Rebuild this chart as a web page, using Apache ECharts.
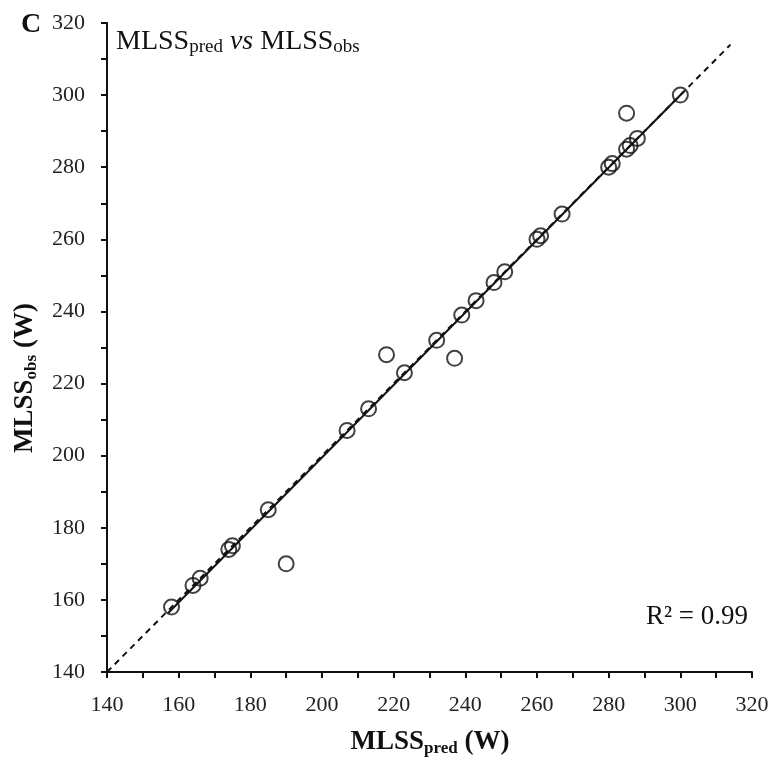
<!DOCTYPE html>
<html>
<head>
<meta charset="utf-8">
<script src="https://cdn.jsdelivr.net/npm/echarts@6/dist/echarts.min.js"></script>
<style>
html,body{margin:0;padding:0;background:#fff;}
#chart{width:774px;height:765px;}
</style>
</head>
<body>
<div id="chart"></div>
<script>
// MLSS predicted (x) vs observed (y), watts
const mlssPred = [158,164,166,174,175,185,190,207,213,218,223,232,237,239,243,248,251,260,261,267,280,281,285,285,286,288,300];
const mlssObs  = [158,164,166,174,175,185,170,207,213,228,223,232,227,239,243,248,251,260,261,267,280,281,295,285,286,288,300];
// identity line (dashed) and regression line (solid) endpoints
const identityX = [140, 314];
const identityY = [140, 314];
const fitX = [157, 301];
const fitY = [156.3, 301];
const axisMin = 140, axisMax = 320, tickStep = 10, labelStep = 20;
const r2Text = 'R² = 0.99';

const font = 'Liberation Serif';
const chart = echarts.init(document.getElementById('chart'));

const pts = mlssPred.map((x, i) => [x, mlssObs[i]]);
const ident = identityX.map((x, i) => [x, identityY[i]]);
const fit = fitX.map((x, i) => [x, fitY[i]]);

function axisCommon() {
  return {
    type: 'value', min: axisMin, max: axisMax, interval: tickStep,
    axisLine: {show: true, lineStyle: {color: '#111', width: 2}},
    axisTick: {show: true, inside: false, length: 6, lineStyle: {color: '#111', width: 2}},
    splitLine: {show: false},
    axisLabel: {
      fontFamily: font, fontSize: 22, color: '#222', margin: 22,
      formatter: v => (v % labelStep === 0 ? String(v) : '')
    }
  };
}

const option = {
  backgroundColor: '#fff',
  animation: false,
  grid: {left: 107, right: 22, top: 23, bottom: 93, containLabel: false},
  xAxis: Object.assign(axisCommon(), {}),
  yAxis: Object.assign(axisCommon(), {}),
  series: [
    {
      type: 'line', data: ident, symbol: 'none', silent: true,
      lineStyle: {color: '#111', width: 2, type: [6, 5]}, z: 1
    },
    {
      type: 'line', data: fit, symbol: 'none', silent: true,
      lineStyle: {color: '#111', width: 2, type: 'solid'}, z: 2
    },
    {
      type: 'scatter', data: pts, symbol: 'circle', symbolSize: 15,
      itemStyle: {color: 'rgba(0,0,0,0)', borderColor: '#111', borderWidth: 2}, z: 3
    }
  ],
  graphic: [
    {
      type: 'text', left: 21, top: 11,
      style: {text: 'C', fontFamily: font, fontSize: 28, fontWeight: 'bold', fill: '#111'}
    },
    {
      type: 'text', x: 116, y: 42,
      style: {
        text: '{m|MLSS}{s|pred}{m| }{i|vs}{m| MLSS}{s|obs}',
        verticalAlign: 'middle', align: 'left',
        rich: {
          m: {fontFamily: font, fontSize: 28, fill: '#111', lineHeight: 30},
          i: {fontFamily: font, fontSize: 28, fontStyle: 'italic', fill: '#111', lineHeight: 30},
          s: {fontFamily: font, fontSize: 19, fill: '#111', lineHeight: 18, verticalAlign: 'bottom'}
        }
      }
    },
    {
      type: 'text', x: 748, y: 617,
      style: {text: r2Text, fontFamily: font, fontSize: 27, fill: '#111', align: 'right', verticalAlign: 'middle'}
    },
    {
      type: 'text', x: 430, y: 742,
      style: {
        text: '{m|MLSS}{s|pred}{m| (W)}',
        align: 'center', verticalAlign: 'middle',
        rich: {
          m: {fontFamily: font, fontSize: 27, fontWeight: 'bold', fill: '#111', lineHeight: 30},
          s: {fontFamily: font, fontSize: 17, fontWeight: 'bold', fill: '#111', lineHeight: 17, verticalAlign: 'bottom'}
        }
      }
    },
    {
      type: 'text', x: 25, y: 378, rotation: Math.PI / 2,
      style: {
        text: '{m|MLSS}{s|obs}{m| (W)}',
        align: 'center', verticalAlign: 'middle',
        rich: {
          m: {fontFamily: font, fontSize: 27, fontWeight: 'bold', fill: '#111', lineHeight: 30},
          s: {fontFamily: font, fontSize: 17, fontWeight: 'bold', fill: '#111', lineHeight: 17, verticalAlign: 'bottom'}
        }
      }
    }
  ]
};
chart.setOption(option);
</script>
</body>
</html>
